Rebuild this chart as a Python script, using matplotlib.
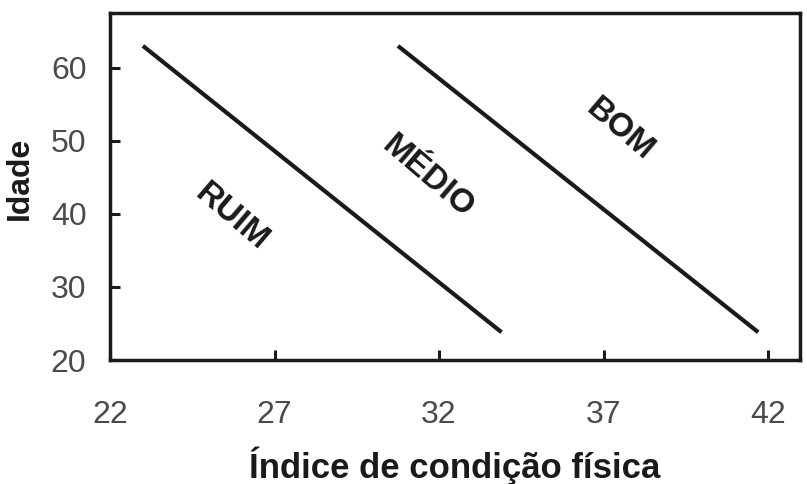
import matplotlib
matplotlib.use("Agg")
import matplotlib.pyplot as plt

# Data
x_ticks = [22, 27, 32, 37, 42]
y_ticks = [20, 30, 40, 50, 60]
line1_x = [23.0, 33.9]
line1_y = [63.0, 23.8]
line2_x = [30.75, 41.7]
line2_y = [63.0, 23.8]
zone_labels = ["RUIM", "MÉDIO", "BOM"]
zone_x = [25.7, 31.67, 37.5]
zone_y = [39.5, 45.0, 51.5]

plt.rcParams['font.family'] = ['Liberation Sans', 'DejaVu Sans']

fig = plt.figure(figsize=(8.07, 4.84), dpi=100)
ax = fig.add_axes([110/807, 1-360/484, 690/807, 347/484])

ax.plot(line1_x, line1_y, color='#1a1a1a', lw=3.0, solid_capstyle='butt')
ax.plot(line2_x, line2_y, color='#1a1a1a', lw=3.0, solid_capstyle='butt')

for lab, x, y in zip(zone_labels, zone_x, zone_y):
    ax.text(x, y, lab, rotation=-40.5, rotation_mode='anchor', ha='center', va='center',
            fontsize=24, fontweight='bold', color='#1a1a1a')

ax.set_xlim(22, 42.97)
ax.set_ylim(20, 67.5)
ax.set_xticks(x_ticks)
ax.set_yticks(y_ticks)
ax.set_xticklabels([str(v) for v in x_ticks])
ax.set_yticklabels([str(v) for v in y_ticks])
ax.tick_params(axis='both', direction='in', length=7, width=2.2, colors='#1a1a1a',
               labelcolor='#4a4a4a', labelsize=23)
ax.tick_params(axis='x', pad=29)
ax.tick_params(axis='y', pad=17)
for s in ax.spines.values():
    s.set_linewidth(2.5)
    s.set_color('#1a1a1a')

ax.set_xlabel("Índice de condição física", fontsize=25, fontweight='bold', color='#1a1a1a', va='center')
ax.xaxis.set_label_coords(0.5, -0.305)
ax.set_ylabel("Idade", fontsize=23, fontweight='bold', color='#1a1a1a', va='center')
ax.yaxis.set_label_coords(-0.130, 0.524)

fig.savefig("out.png", dpi=100)
